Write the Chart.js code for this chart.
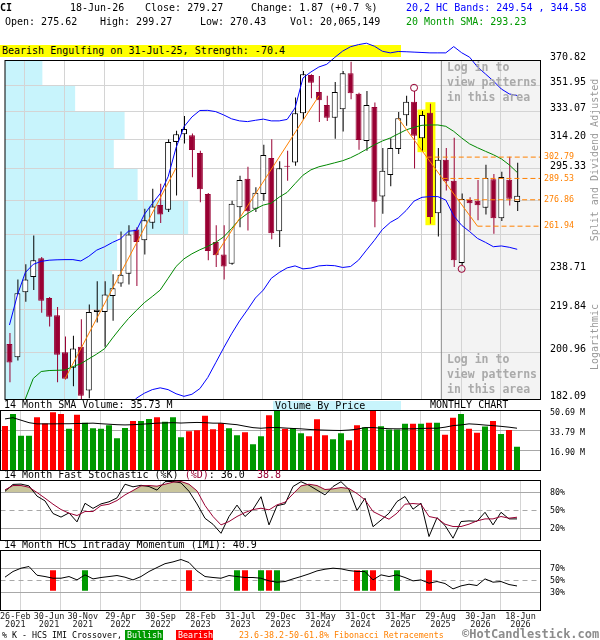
<!DOCTYPE html>
<html>
<head>
<meta charset="utf-8">
<title>CI monthly chart</title>
<script src="https://cdn.jsdelivr.net/npm/chart.js@4.4.1/dist/chart.umd.min.js"></script>
<style>
  body { margin: 0; background: #fff; }
  #wrap { position: relative; width: 600px; height: 640px; overflow: hidden; font-family: "DejaVu Sans Mono", monospace; }
  #wrap canvas { position: absolute; left: 0; top: 0; z-index: 1; }
  .t { position: absolute; white-space: pre; font-size: 10px; line-height: 10px; z-index: 2; color: #000; }
  .s { font-size: 8.3px; }
  .login { position: absolute; left: 447px; white-space: pre; font-size: 11.5px; line-height: 15px; font-weight: bold; color: #aaa; z-index: 2; }
  .rot { position: absolute; white-space: nowrap; font-size: 10px; color: #999; transform: translate(-50%, -50%) rotate(-90deg); z-index: 2; }
</style>
</head>
<body>
<div id="wrap">
  <div class="t" style="left:0;top:3px;font-weight:bold">CI</div>
  <div class="t" style="left:70px;top:3px">18-Jun-26</div>
  <div class="t" style="left:145px;top:3px">Close: 279.27</div>
  <div class="t" style="left:251px;top:3px">Change: 1.87 (+0.7 %)</div>
  <div class="t" style="left:406px;top:3px;color:#0000ff">20,2 HC Bands: 249.54 , 344.58</div>
  <div class="t" style="left:5px;top:17px">Open: 275.62</div>
  <div class="t" style="left:100px;top:17px">High: 299.27</div>
  <div class="t" style="left:200px;top:17px">Low: 270.43</div>
  <div class="t" style="left:290px;top:17px">Vol: 20,065,149</div>
  <div class="t" style="left:406px;top:17px;color:#009900">20 Month SMA: 293.23</div>

  <div class="t" style="left:0;top:45px;width:399px;height:12px;line-height:12px;padding-left:2px;background:#ffff00;z-index:0">Bearish Engulfing on 31-Jul-25, Strength: -70.4</div>

  <div class="login" style="top:60px">Log in to
view patterns
in this area</div>
  <div class="login" style="top:352px">Log in to
view patterns
in this area</div>

  <div class="rot" style="left:594px;top:160px">Split and Dividend Adjusted</div>
  <div class="rot" style="left:594px;top:337px">Logarithmic</div>

  <div class="t" style="left:4px;top:400px">14 Month SMA Volume: 35.73 M</div>
  <div class="t" style="left:273px;top:401px;width:126px;height:9px;line-height:10px;padding-left:2px;background:#c8f4fc">Volume By Price</div>
  <div class="t" style="left:430px;top:400px">MONTHLY CHART</div>

  <div class="t" style="left:4px;top:470px">14 Month Fast Stochastic (%K) <span style="color:#990033">(%D)</span>: 36.0  <span style="color:#990033">38.8</span></div>
  <div class="t" style="left:4px;top:540px">14 Month HCS Intraday Momentum (IMI): 40.9</div>

  <div class="t s" style="left:2px;top:630px">% K - HCS IMI Crossover,</div>
  <div class="t s" style="left:125px;top:630px;width:36px;height:10px;padding-left:2px;background:#009900;color:#fff">Bullish</div>
  <div class="t s" style="left:176px;top:630px;width:35px;height:10px;padding-left:2px;background:#ff0000;color:#fff">Bearish</div>
  <div class="t s" style="left:239px;top:630px;color:#ff8000">23.6-38.2-50-61.8% Fibonacci Retracements</div>
  <div class="t" style="left:462px;top:628px;font-size:12px;line-height:12px;font-weight:bold;color:#8c8c8c">©HotCandlestick.com</div>

  <canvas id="cMain" width="600" height="640"></canvas>
  <canvas id="cVol" width="600" height="640"></canvas>
  <canvas id="cStoch" width="600" height="640"></canvas>
  <canvas id="cImi" width="600" height="640"></canvas>
</div>

<script>
// monthly candles, Feb-2021 .. Jun-2026
const months = [
  'Feb-21','Mar-21','Apr-21','May-21','Jun-21','Jul-21','Aug-21','Sep-21','Oct-21','Nov-21','Dec-21',
  'Jan-22','Feb-22','Mar-22','Apr-22','May-22','Jun-22','Jul-22','Aug-22','Sep-22','Oct-22','Nov-22','Dec-22',
  'Jan-23','Feb-23','Mar-23','Apr-23','May-23','Jun-23','Jul-23','Aug-23','Sep-23','Oct-23','Nov-23','Dec-23',
  'Jan-24','Feb-24','Mar-24','Apr-24','May-24','Jun-24','Jul-24','Aug-24','Sep-24','Oct-24','Nov-24','Dec-24',
  'Jan-25','Feb-25','Mar-25','Apr-25','May-25','Jun-25','Jul-25','Aug-25','Sep-25','Oct-25','Nov-25','Dec-25',
  'Jan-26','Feb-26','Mar-26','Apr-26','May-26','Jun-26'
];

const open = [204.6, 199.0, 228.0, 235.5, 244.9, 225.3, 217.3, 201.1, 194.6, 203.4,
  185.6, 218.8, 218.8, 226.2, 232.3, 237.1, 260.1, 254.3, 263.9, 273.9,
  271.1, 312.6, 317.7, 317.0, 305.4, 280.3, 253.4, 246.8, 242.1, 272.6,
  289.4, 271.7, 280.3, 302.2, 259.2, 297.3, 299.4, 331.9, 359.7, 347.1,
  337.8, 328.9, 334.7, 361.0, 345.9, 313.2, 336.4, 278.7, 291.6, 308.0,
  330.6, 340.0, 315.0, 332.3, 269.2, 301.1, 288.2, 242.5, 276.7, 276.3,
  272.2, 289.0, 266.4, 288.8, 275.62];
const high = [209.3, 234.2, 241.8, 256.9, 245.6, 225.8, 221.1, 207.8, 208.1, 215.5,
  222.2, 233.4, 233.4, 236.8, 259.0, 262.4, 261.4, 271.7, 283.3, 286.3,
  314.3, 320.0, 330.1, 318.1, 306.9, 280.8, 262.4, 262.4, 276.3, 291.2,
  296.7, 284.2, 310.7, 314.3, 300.1, 306.9, 343.1, 362.7, 360.3, 359.0,
  344.3, 354.4, 362.7, 369.8, 346.5, 347.9, 339.5, 308.6, 315.0, 332.8,
  344.3, 347.9, 333.5, 338.7, 308.6, 308.6, 315.4, 280.6, 278.3, 288.6,
  297.9, 292.2, 293.6, 303.0, 299.27];
const low = [188.8, 197.6, 223.5, 229.1, 218.4, 212.2, 188.8, 189.9, 187.2, 182.3,
  182.6, 214.0, 203.4, 214.8, 230.7, 231.8, 231.1, 246.8, 260.5, 263.7,
  269.8, 279.3, 311.5, 290.2, 275.4, 243.9, 240.4, 234.2, 241.6, 261.4,
  259.6, 269.8, 276.3, 254.9, 250.8, 288.2, 297.3, 327.9, 342.6, 326.0,
  326.7, 314.7, 319.5, 341.9, 307.5, 306.9, 261.4, 268.9, 284.8, 304.8,
  323.3, 295.6, 306.9, 263.3, 256.3, 282.3, 240.4, 241.3, 259.6, 265.2,
  268.5, 257.8, 264.8, 273.5, 270.43];
const close = [196.8, 227.5, 234.2, 243.9, 224.0, 216.6, 200.0, 190.2, 202.7, 183.5,
  218.8, 219.8, 227.0, 229.9, 236.6, 257.4, 253.4, 265.2, 273.0, 268.5,
  312.6, 317.7, 321.1, 307.3, 283.0, 248.7, 246.5, 240.7, 274.5, 288.6,
  270.3, 280.9, 304.1, 258.1, 295.8, 296.7, 331.9, 360.3, 353.9, 341.2,
  328.9, 347.1, 361.0, 346.2, 313.9, 337.8, 275.7, 294.2, 308.6, 328.5,
  340.0, 316.6, 330.8, 267.0, 301.1, 287.8, 243.9, 277.3, 274.8, 273.7,
  289.8, 266.4, 290.4, 277.4, 279.27];

// 20,2 HC bands and 20 month SMA (null = below the visible range)
const upperBand = [212.9, 226.7, 237.7, 241.8, 243.3, 243.9, 244.1, 244.2, 244.2, 243.5,
  245.9, 249.1, 250.9, 253.2, 255.1, 259.2, 259.6, 268.5, 274.6, 280.5,
  290.6, 308.8, 322.7, 329.4, 333.9, 334.0, 333.1, 330.8, 328.1, 326.7,
  326.2, 327.1, 327.9, 326.7, 326.7, 327.7, 335.7, 357.5, 362.0, 365.8,
  367.9, 373.2, 378.2, 381.7, 383.4, 384.5, 382.1, 378.1, 376.8, 377.9,
  377.7, 377.4, 377.1, 376.8, 376.8, 376.8, 381.8, 376.9, 373.4, 365.8,
  360.5, 355.2, 349.3, 345.7, 344.58];
const lowerBand = [null, null, null, null, null, null, null, null, null, null,
  null, null, null, null, 172.0, 178.0, 182.6, 184.5, 185.9, 186.6,
  185.9, 184.3, 183.3, 184.1, 186.3, 190.7, 196.7, 202.9, 209.0, 214.7,
  219.8, 225.3, 229.1, 234.8, 237.7, 240.0, 241.0, 239.5, 239.9, 241.0,
  241.3, 241.1, 240.2, 240.7, 243.9, 249.1, 254.3, 260.1, 264.0, 266.5,
  270.7, 276.1, 278.3, 278.7, 278.7, 276.7, 267.7, 262.4, 259.0, 255.3,
  253.2, 250.9, 251.3, 250.6, 249.54];
const sma20 = [null, 178.0, 182.3, 190.3, 193.1, 193.5, 193.6, 193.7, 195.1, 196.3,
  198.3, 200.3, 202.6, 207.2, 211.6, 215.8, 219.5, 223.1, 226.0, 229.1,
  234.8, 240.7, 244.6, 247.2, 249.3, 251.1, 253.2, 256.1, 260.7, 265.7,
  269.0, 271.6, 273.8, 274.9, 278.4, 281.2, 286.4, 291.5, 294.8, 296.7,
  297.9, 299.2, 300.5, 302.4, 304.9, 307.8, 310.7, 313.2, 315.2, 317.9,
  320.6, 322.3, 323.7, 323.9, 323.9, 323.0, 319.6, 315.2, 311.3, 308.8,
  306.5, 304.3, 301.7, 297.9, 293.23];

// volume (millions) and its 14 month SMA
const volume = [37.7, 47.8, 29.3, 29.3, 45.0, 39.7, 49.3, 47.8, 35.2, 47.0,
  40.3, 35.7, 35.2, 38.3, 27.3, 36.0, 41.9, 41.9, 43.6, 45.0,
  41.1, 45.0, 28.1, 33.2, 34.1, 46.2, 34.9, 40.0, 35.7, 29.8,
  32.4, 22.2, 29.0, 46.7, 52.0, 35.2, 36.0, 31.5, 29.0, 43.3,
  29.8, 26.4, 31.5, 25.6, 38.3, 36.6, 52.0, 37.4, 34.6, 34.6,
  39.4, 39.4, 39.4, 40.3, 40.3, 30.1, 44.5, 47.8, 35.2, 31.8,
  37.2, 41.9, 30.9, 34.3, 20.07];
const volSma = [43.6, 44.6, 42.5, 40.4, 39.4, 39.4, 39.4, 39.5, 39.5, 39.7,
  39.8, 40.0, 39.5, 39.1, 38.7, 38.5, 38.7, 39.1, 39.5, 40.0,
  40.2, 40.4, 40.1, 40.4, 40.6, 40.4, 40.0, 40.0, 39.3, 38.7,
  37.4, 36.2, 35.7, 36.2, 36.3, 35.9, 35.5, 35.2, 34.7, 34.3,
  34.1, 33.9, 33.8, 34.2, 34.9, 36.2, 36.3, 35.7, 35.3, 35.2,
  35.2, 35.2, 35.5, 35.7, 35.7, 36.6, 37.9, 38.5, 39.4, 39.0,
  38.4, 37.9, 37.3, 36.6, 35.73];

// 14 month fast stochastic
const stochK = [82, 93.5, 94, 91, 74, 66, 45, 39, 46, 31,
  62, 53.5, 61, 64.5, 71, 93.8, 89.5, 92, 90, 84,
  98, 98.5, 96, 82, 61, 37, 27, 12, 40, 59,
  40, 52, 73, 26, 58, 61, 90, 98, 92, 84,
  76, 90, 98, 85, 50, 70.5, 23, 34, 45.5, 65,
  73.3, 52.2, 62.2, 6.6, 38, 25, 3.8, 31.6, 32.7, 32,
  47, 26, 47, 36, 36.0];
const stochD = [84.4, 91.6, 91.6, 88.8, 80, 70.5, 60.5, 51.6, 45.5, 41.6,
  48.3, 48.3, 58.3, 60.5, 66.6, 76, 83.3, 91, 91.6, 90.5,
  93.8, 97.2, 98.3, 93.8, 82.7, 58.3, 40, 26, 31.6, 40,
  46.6, 51.6, 53.8, 51, 59.4, 63.8, 77.7, 91, 93.8, 91.6,
  85, 86, 88.3, 86.6, 78.3, 67.7, 48.3, 41.6, 35.5, 45.5,
  60.5, 61.6, 60.5, 40, 37.2, 27.2, 23.3, 23.3, 27.2, 32.7,
  36, 36, 40, 37.2, 38.8];

// 14 month HCS intraday momentum and its crossovers with %K
const imi = [55.6, 65, 70.5, 73.3, 58.8, 56.6, 53.8, 53.8, 56.6, 51,
  59.4, 52.7, 55, 56.6, 58.3, 55.5, 51, 56.6, 65, 71.6,
  78, 81, 85, 80, 66, 56.6, 55, 53.8, 58.3, 56.6,
  55, 55, 53.8, 49.4, 47.2, 48.3, 52.7, 56.6, 61, 66,
  68.8, 70.5, 69.4, 66.6, 65, 65, 51, 59.4, 56.6, 59.4,
  55, 49.4, 51, 45.5, 48.3, 45, 36, 41, 43.8, 41.6,
  52.7, 47.2, 48.3, 43.3, 40.9];
const bullishIdx = [10, 29, 32, 34, 45, 49];
const bearishIdx = [6, 23, 30, 33, 44, 46, 53];
const IMI_MARK = [33, 67];

// price axis, volume by price (relative, bottom zone first)
const priceTicks = [182.09, 200.96, 219.84, 238.71, 257.58, 276.46, 295.33, 314.20, 333.07, 351.95, 370.82];
const hiddenPriceTicks = [257.58, 276.46];
const vbpVolume = [397, 280, 585, 612, 1000, 724, 594, 653, 383, 204];

// fibonacci retracement and trend lines
const fibLevels = [302.79, 289.53, 276.86, 261.94];
const trendLines = [
  [{ x: 7, y: 190.2 }, { x: 21, y: 296.0 }],
  [{ x: 26, y: 246.5 }, { x: 39, y: 344.3 }],
  [{ x: 49, y: 328.5 }, { x: 59, y: 261.94 }]
];
const patternMarks = [{ x: 51, y: 350.2 }, { x: 57, y: 239.5 }];
const highlightIdx = [52, 53];
const loginFromIdx = 54;

// date axis
const dateTickIdx = [0, 4, 9, 14, 19, 24, 29, 34, 39, 44, 49, 54, 59, 64];
const dateTickLabels = [['26-Feb', '2021'], ['30-Jun', '2021'], ['30-Nov', '2021'], ['29-Apr', '2022'],
  ['30-Sep', '2022'], ['28-Feb', '2023'], ['31-Jul', '2023'], ['29-Dec', '2023'], ['31-May', '2024'],
  ['31-Oct', '2024'], ['31-Mar', '2025'], ['29-Aug', '2025'], ['30-Jan', '2026'], ['18-Jun', '2026']];

// ---- styling ----
const MAROON = '#990033';
const CYAN = '#c8f4fc';
const KHAKI = '#c9c59c';
const ORANGE = '#ff8000';
const FONT = '"DejaVu Sans Mono", monospace';
const X_MIN = -0.5625, X_MAX = 66.9375;   // 8px per month, first candle at x=5
const GRID_SHIFT = 0.4375;
const WICK_SHIFT = 0.0625;
const VBP_MAX_FRAC = 0.342;

Chart.defaults.font.family = FONT;
Chart.defaults.color = '#000';

const idx = months.map((m, i) => i);
const isUp = idx.map(i => close[i] >= open[i]);
const pts = arr => arr.map((v, i) => ({ x: idx[i], y: v }));
const gridIdx = dateTickIdx.slice(1).map(i => i + GRID_SHIFT);

function lineDs(data, color, extra) {
    return Object.assign({
        type: 'line', data: data, borderColor: color, borderWidth: 1,
        pointRadius: 0, fill: false, tension: 0, spanGaps: false
    }, extra);
}
function refLine(v, dash) {
    return lineDs([{ x: X_MIN, y: v }, { x: X_MAX, y: v }], '#a8a8a8', { borderDash: dash || [], order: 9 });
}
function xAxis() {
    return {
        type: 'linear', min: X_MIN, max: X_MAX, offset: false,
        afterBuildTicks: s => { s.ticks = gridIdx.map(v => ({ value: v })); },
        ticks: { display: false },
        grid: { color: '#d4d4d4', drawTicks: false },
        border: { display: false },
        afterFit: s => { s.height = 0; }
    };
}
function yAxis(type, min, max, tickVals, fmt, fontSize, labelOffset, gridOpts) {
    return {
        type: type, min: min, max: max, position: 'right',
        afterBuildTicks: s => { s.ticks = tickVals.map(v => ({ value: v })); },
        afterFit: s => { s.width = 59.5; },
        border: { display: false },
        grid: Object.assign({ color: '#a8a8a8', drawTicks: false }, gridOpts),
        ticks: { autoSkip: false, padding: 9.5, callback: fmt, font: { size: fontSize }, color: '#000', labelOffset: labelOffset }
    };
}
function pad(topRow, bottomRow) {
    return { left: 0.5, right: 0, top: topRow + 0.5, bottom: 640 - bottomRow - 0.5 };
}
function baseOptions(topRow, bottomRow, scales) {
    return {
        responsive: false, animation: false, devicePixelRatio: 1, events: [],
        layout: { padding: pad(topRow, bottomRow) },
        plugins: { legend: { display: false }, tooltip: { enabled: false }, filler: { drawTime: 'beforeDatasetsDraw' } },
        scales: scales
    };
}

const boxPlugin = {
    id: 'box',
    afterDraw(chart) {
        const a = chart.chartArea, ctx = chart.ctx;
        ctx.save();
        ctx.strokeStyle = '#000';
        ctx.lineWidth = 1;
        ctx.strokeRect(a.left, a.top, a.right - a.left, a.bottom - a.top);
        ctx.restore();
    }
};

// fib lines start where they cross the last trend line
function fibStart(level) {
    const a = trendLines[2][0], b = trendLines[2][1];
    const t = Math.log(a.y / level) / Math.log(a.y / b.y);
    return a.x + t * (b.x - a.x);
}

const mainExtras = {
    id: 'mainExtras',
    beforeDraw(chart) {
        const { ctx, chartArea: a, scales: { x, y } } = chart;
        ctx.save();
        const maxV = Math.max(...vbpVolume);
        ctx.fillStyle = CYAN;
        vbpVolume.forEach((v, k) => {
            const top = y.getPixelForValue(priceTicks[k + 1]);
            const bot = y.getPixelForValue(priceTicks[k]);
            ctx.fillRect(a.left, top, (a.right - a.left) * VBP_MAX_FRAC * v / maxV, bot - top);
        });
        const xs = x.getPixelForValue(loginFromIdx + GRID_SHIFT);
        ctx.fillStyle = '#f3f3f3';
        ctx.fillRect(xs, a.top, a.right - xs, a.bottom - a.top);
        ctx.restore();
    },
    beforeDatasetsDraw(chart) {
        const { ctx, chartArea: a, scales: { x, y } } = chart;
        ctx.save();
        const xs = x.getPixelForValue(loginFromIdx + GRID_SHIFT);
        ctx.strokeStyle = '#8c8c8c';
        ctx.lineWidth = 1;
        ctx.beginPath();
        ctx.moveTo(xs, a.top);
        ctx.lineTo(xs, a.bottom);
        ctx.stroke();
        ctx.fillStyle = '#ffff00';
        highlightIdx.forEach(i => {
            const cx = x.getPixelForValue(i);
            const top = y.getPixelForValue(high[i]) - 1.5;
            const bot = y.getPixelForValue(low[i]) + 1.5;
            ctx.fillRect(cx - 4.5, top, 10, bot - top);
        });
        ctx.restore();
    },
    afterDraw(chart) {
        const { ctx, chartArea: a, scales: { y } } = chart;
        ctx.save();
        ctx.font = '8.3px ' + FONT;
        ctx.fillStyle = ORANGE;
        ctx.textBaseline = 'middle';
        fibLevels.forEach(lv => ctx.fillText(lv.toFixed(2), a.right + 3.5, y.getPixelForValue(lv)));
        ctx.restore();
    }
};

// date labels centred on the grid lines, pushed right when they would collide
const dateLabels = {
    id: 'dateLabels',
    afterDraw(chart) {
        const { ctx, chartArea: a, scales: { x } } = chart;
        ctx.save();
        ctx.font = '8.5px ' + FONT;
        ctx.fillStyle = '#222';
        ctx.textAlign = 'center';
        ctx.textBaseline = 'middle';
        let prevRight = -Infinity;
        dateTickIdx.forEach((i, k) => {
            const lines = dateTickLabels[k];
            const w = Math.max(...lines.map(l => ctx.measureText(l).width));
            let cx = Math.max(x.getPixelForValue(i + GRID_SHIFT), w / 2);
            if (cx - w / 2 < prevRight + 3) cx = prevRight + 3 + w / 2;
            prevRight = cx + w / 2;
            lines.forEach((l, j) => ctx.fillText(l, cx, a.bottom + 6 + j * 8));
        });
        ctx.restore();
    }
};

// ---- price chart ----
new Chart(document.getElementById('cMain'), {
    type: 'bar',
    data: {
        datasets: [
            lineDs(pts(upperBand), '#0000ff', { order: 4, clip: { left: 0, top: false, right: 0, bottom: 0 } }),
            lineDs(pts(lowerBand), '#0000ff', { order: 4 }),
            lineDs(pts(sma20), '#008800', { order: 4 }),
            ...trendLines.map(t => lineDs(t, ORANGE, { order: 3 })),
            ...fibLevels.map(lv => lineDs([{ x: fibStart(lv), y: lv }, { x: X_MAX, y: lv }], ORANGE, { order: 3, borderDash: [5, 3] })),
            lineDs(patternMarks, MAROON, {
                order: 1, showLine: false, pointRadius: 3.5, pointBorderColor: MAROON,
                pointBackgroundColor: 'rgba(0,0,0,0)', pointBorderWidth: 1
            }),
            {
                label: 'body', order: 5,
                data: idx.map(i => ({ x: i, y: [open[i], close[i]] })),
                backgroundColor: isUp.map(u => u ? '#ffffff' : MAROON),
                borderColor: isUp.map(u => u ? '#000000' : MAROON),
                borderWidth: 1, borderSkipped: false, barThickness: 6, grouped: false, inflateAmount: 0
            },
            {
                label: 'wick', order: 6,
                data: idx.map(i => ({ x: i + WICK_SHIFT, y: [low[i], high[i]] })),
                backgroundColor: isUp.map(u => u ? '#000000' : MAROON),
                borderWidth: 0, barThickness: 1, grouped: false, inflateAmount: 0
            }
        ]
    },
    options: baseOptions(60, 399, {
        x: xAxis(),
        y: yAxis('logarithmic', priceTicks[0], priceTicks[priceTicks.length - 1], priceTicks,
            v => hiddenPriceTicks.includes(v) ? '' : v.toFixed(2), 10, -3, { color: '#d4d4d4' })
    }),
    plugins: [mainExtras, boxPlugin]
});

// ---- volume ----
new Chart(document.getElementById('cVol'), {
    type: 'bar',
    data: {
        datasets: [
            lineDs(pts(volSma), '#000', { order: 1 }),
            {
                label: 'volume', order: 2,
                data: pts(volume),
                backgroundColor: isUp.map(u => u ? '#009900' : '#ff0000'),
                barThickness: 6, grouped: false, inflateAmount: 0
            }
        ]
    },
    options: baseOptions(410, 470, {
        x: xAxis(),
        y: yAxis('linear', 0, 50.69, [16.90, 33.79, 50.69], v => v.toFixed(2) + ' M', 8.3, 2, {})
    }),
    plugins: [boxPlugin]
});

// ---- fast stochastic ----
new Chart(document.getElementById('cStoch'), {
    type: 'line',
    data: {
        datasets: [
            refLine(80), refLine(50, [5, 4]), refLine(20),
            lineDs(pts(stochK), '#000', { order: 2 }),
            lineDs(pts(stochD), MAROON, { order: 1, fill: { target: { value: 80 }, above: KHAKI, below: 'rgba(0,0,0,0)' } })
        ]
    },
    options: baseOptions(480, 540, {
        x: xAxis(),
        y: yAxis('linear', 0, 100, [20, 50, 80], v => v + '%', 8.3, 0, { drawOnChartArea: false })
    }),
    plugins: [boxPlugin]
});

// ---- intraday momentum ----
new Chart(document.getElementById('cImi'), {
    type: 'bar',
    data: {
        datasets: [
            refLine(70), refLine(50, [5, 4]), refLine(30),
            {
                label: 'bullish', order: 3, data: bullishIdx.map(i => ({ x: i, y: IMI_MARK })),
                backgroundColor: '#009900', barThickness: 6, grouped: false, inflateAmount: 0
            },
            {
                label: 'bearish', order: 3, data: bearishIdx.map(i => ({ x: i, y: IMI_MARK })),
                backgroundColor: '#ff0000', barThickness: 6, grouped: false, inflateAmount: 0
            },
            lineDs(pts(imi), '#000', { order: 1 })
        ]
    },
    options: baseOptions(550, 610, {
        x: xAxis(),
        y: yAxis('linear', 0, 100, [30, 50, 70], v => v + '%', 8.3, 0, { drawOnChartArea: false })
    }),
    plugins: [boxPlugin, dateLabels]
});
</script>
</body>
</html>
